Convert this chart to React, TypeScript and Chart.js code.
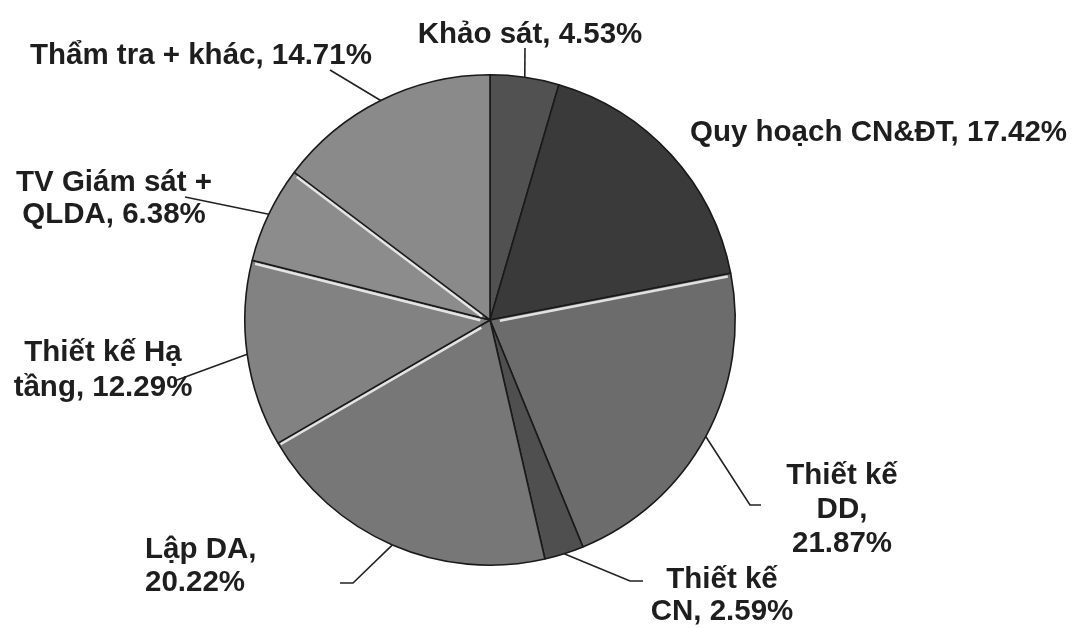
import React, { useEffect, useRef } from "react";
import { Chart, registerables } from "chart.js";

Chart.register(...registerables);

const categories = [
  "Khảo sát",
  "Quy hoạch CN&ĐT",
  "Thiết kế DD",
  "Thiết kế CN",
  "Lập DA",
  "Thiết kế Hạ tầng",
  "TV Giám sát + QLDA",
  "Thẩm tra + khác",
];
const shares = [4.53, 17.42, 21.87, 2.59, 20.22, 12.29, 6.38, 14.71];
const sliceColors = [
  "#515151",
  "#3a3a3a",
  "#6c6c6c",
  "#4f4f4f",
  "#777777",
  "#828282",
  "#8c8c8c",
  "#8a8a8a",
];
// label text, wrapped as in the reference
const labelLines: string[][] = [
  ["Khảo sát, 4.53%"],
  ["Quy hoạch CN&ĐT, 17.42%"],
  ["Thiết kế", "DD,", "21.87%"],
  ["Thiết kế", "CN, 2.59%"],
  ["Lập DA,", "20.22%"],
  ["Thiết kế Hạ", "tầng, 12.29%"],
  ["TV Giám sát +", "QLDA, 6.38%"],
  ["Thẩm tra + khác, 14.71%"],
];
// slices whose starting edge gets a light bevel highlight (drawn just below the edge)
const bevelSlices = [2, 5, 6, 7];

// label placement relative to pie centre (pixels)
type Place = { tx: number; ty: number; align: CanvasTextAlign; lh: number; leader: number[][] };
const placements: Place[] = [
  { tx: 40, ty: -285, align: "center", lh: 32, leader: [[35, -272]] },
  { tx: 200, ty: -187, align: "left", lh: 32, leader: [] },
  { tx: 352, ty: 156, align: "center", lh: 34, leader: [[260, 185], [271, 185]] },
  { tx: 232, ty: 260, align: "center", lh: 32, leader: [[140, 261], [153, 261]] },
  { tx: -345, ty: 230, align: "left", lh: 33, leader: [[-137, 263], [-150, 263]] },
  { tx: -387, ty: 33, align: "center", lh: 35, leader: [[-313, 60]] },
  { tx: -376, ty: -137, align: "center", lh: 32, leader: [[-305, -123]] },
  { tx: -460, ty: -264, align: "left", lh: 32, leader: [[-160, -250]] },
];

const labelPlugin = {
  id: "pieLabels",
  afterDatasetsDraw(chart: any) {
    const ctx = chart.ctx as CanvasRenderingContext2D;
    const meta = chart.getDatasetMeta(0);
    ctx.save();
    // bevel highlights
    bevelSlices.forEach((i) => {
      const arc = meta.data[i];
      const { x, y, startAngle, outerRadius } = arc.getProps(["x", "y", "startAngle", "outerRadius"], true);
      const a = startAngle;
      ctx.strokeStyle = "rgba(238,238,238,0.9)";
      ctx.lineWidth = 2.5;
      ctx.beginPath();
      ctx.moveTo(x + Math.cos(a) * 10, y + Math.sin(a) * 10 + 2.6);
      ctx.lineTo(x + Math.cos(a) * (outerRadius - 3), y + Math.sin(a) * (outerRadius - 3) + 2.6);
      ctx.stroke();
    });
    // leaders and labels
    ctx.strokeStyle = "#222";
    ctx.lineWidth = 1.6;
    ctx.fillStyle = "#1e1e1e";
    ctx.font = "bold 29.5px 'Liberation Sans', Arial, sans-serif";
    ctx.textBaseline = "middle";
    meta.data.forEach((arc: any, i: number) => {
      const { x, y, startAngle, endAngle, outerRadius } = arc.getProps(
        ["x", "y", "startAngle", "endAngle", "outerRadius"],
        true
      );
      const p = placements[i];
      const mid = (startAngle + endAngle) / 2;
      if (p.leader.length) {
        ctx.beginPath();
        ctx.moveTo(x + Math.cos(mid) * outerRadius, y + Math.sin(mid) * outerRadius);
        p.leader.forEach(([dx, dy]) => ctx.lineTo(x + dx, y + dy));
        ctx.stroke();
      }
      ctx.textAlign = p.align;
      labelLines[i].forEach((line, k) => {
        ctx.fillText(line, x + p.tx, y + p.ty + k * p.lh);
      });
    });
    ctx.restore();
  },
};

export default function App() {
  const ref = useRef<HTMLCanvasElement>(null);
  useEffect(() => {
    if (!ref.current) return;
    const chart = new Chart(ref.current, {
      type: "pie",
      data: {
        labels: categories,
        datasets: [
          {
            data: shares,
            backgroundColor: sliceColors,
            borderColor: "#1a1a1a",
            borderWidth: 1.6,
          },
        ],
      },
      options: {
        animation: false,
        responsive: true,
        maintainAspectRatio: false,
        layout: { padding: { left: 244, right: 340, top: 74, bottom: 62 } },
        plugins: { legend: { display: false }, tooltip: { enabled: false } },
      },
      plugins: [labelPlugin],
    });
    return () => chart.destroy();
  }, []);
  return (
    <div style={{ position: "absolute", left: 0, top: 0, width: 1076, height: 628, background: "#fff" }}>
      <canvas ref={ref} />
    </div>
  );
}
